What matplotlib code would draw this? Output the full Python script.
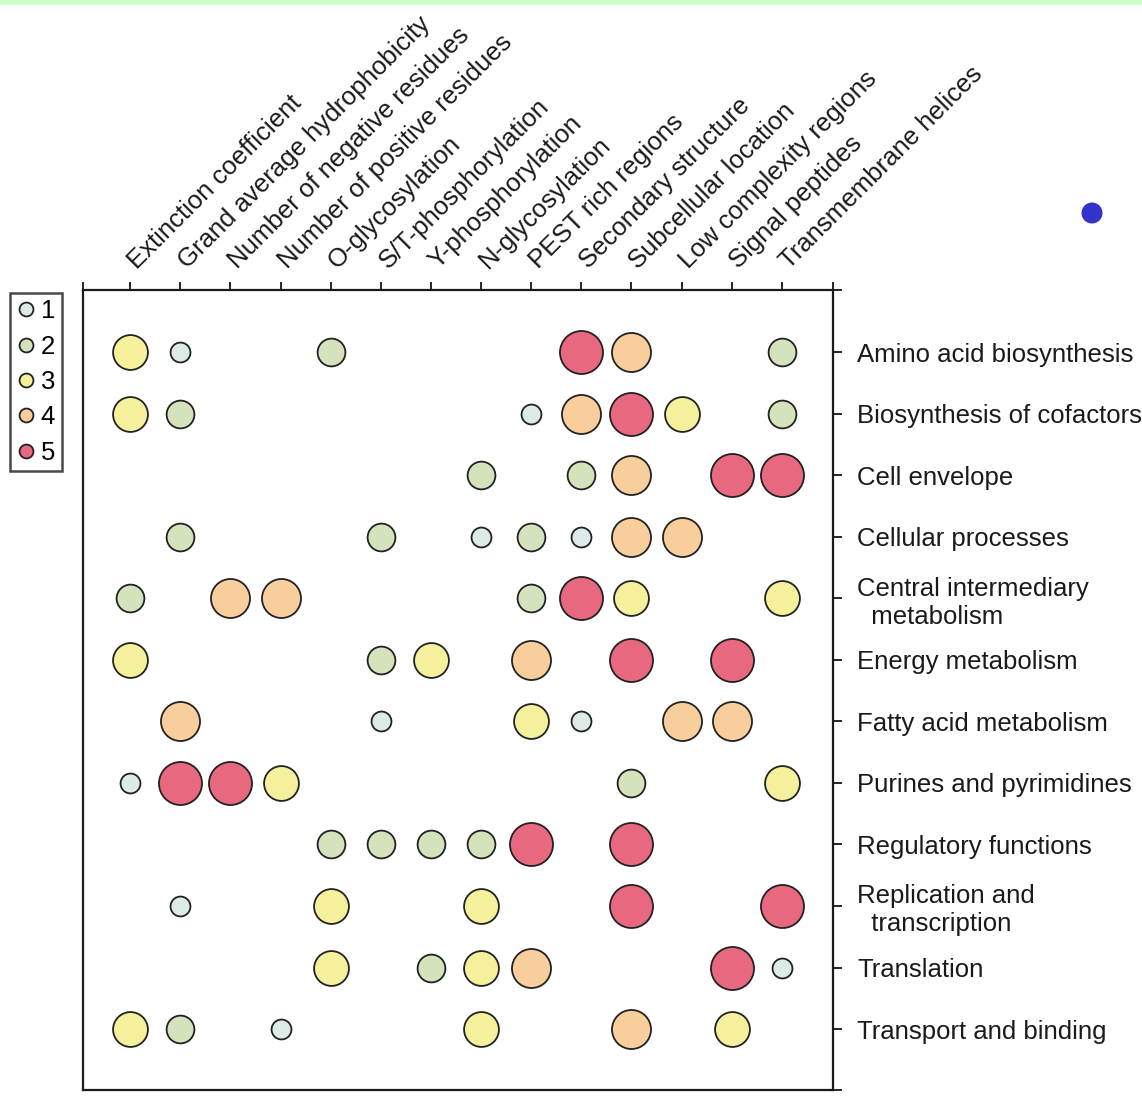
import matplotlib.pyplot as plt
from matplotlib.lines import Line2D
from matplotlib.patches import Rectangle, Ellipse
from matplotlib.transforms import ScaledTranslation

plt.rcParams['font.family'] = ['Liberation Sans', 'DejaVu Sans']

# protein features (columns)
features = ["Extinction coefficient", "Grand average hydrophobicity",
            "Number of negative residues", "Number of positive residues",
            "O-glycosylation", "S/T-phosphorylation", "Y-phosphorylation",
            "N-glycosylation", "PEST rich regions", "Secondary structure",
            "Subcellular location", "Low complexity regions",
            "Signal peptides", "Transmembrane helices"]

# functional categories (rows)
categories = ["Amino acid biosynthesis", "Biosynthesis of cofactors",
              "Cell envelope", "Cellular processes",
              "Central intermediary\n  metabolism", "Energy metabolism",
              "Fatty acid metabolism", "Purines and pyrimidines",
              "Regulatory functions", "Replication and\n  transcription",
              "Translation", "Transport and binding"]

# importance level 1-5 for each category / feature (0 = not shown)
levels = [
    [3, 1, 0, 0, 2, 0, 0, 0, 0, 5, 4, 0, 0, 2],
    [3, 2, 0, 0, 0, 0, 0, 0, 1, 4, 5, 3, 0, 2],
    [0, 0, 0, 0, 0, 0, 0, 2, 0, 2, 4, 0, 5, 5],
    [0, 2, 0, 0, 0, 2, 0, 1, 2, 1, 4, 4, 0, 0],
    [2, 0, 4, 4, 0, 0, 0, 0, 2, 5, 3, 0, 0, 3],
    [3, 0, 0, 0, 0, 2, 3, 0, 4, 0, 5, 0, 5, 0],
    [0, 4, 0, 0, 0, 1, 0, 0, 3, 1, 0, 4, 4, 0],
    [1, 5, 5, 3, 0, 0, 0, 0, 0, 0, 2, 0, 0, 3],
    [0, 0, 0, 0, 2, 2, 2, 2, 5, 0, 5, 0, 0, 0],
    [0, 1, 0, 0, 3, 0, 0, 3, 0, 0, 5, 0, 0, 5],
    [0, 0, 0, 0, 3, 0, 2, 3, 4, 0, 0, 0, 5, 1],
    [3, 2, 0, 1, 0, 0, 0, 3, 0, 0, 4, 0, 3, 0],
]

level_names = ["1", "2", "3", "4", "5"]
level_colors = ['#dcebe8', '#d5e3bd', '#f5f09c', '#f8cf9c', '#e8687f']
level_sizes = [205, 400, 630, 790, 960]

fs = 18.5

fig = plt.figure(figsize=(11.42, 11.06), dpi=100)
ax = fig.add_axes([83 / 1142, 1 - 1090 / 1106, 750 / 1142, 800 / 1106])

for r, row in enumerate(levels):
    for c, lv in enumerate(row):
        if lv == 0:
            continue
        ax.scatter(c, r, s=level_sizes[lv - 1], c=level_colors[lv - 1],
                   edgecolors='#222222', linewidths=1.3, zorder=3)

x0, x1 = -0.94, 14.02
y0, y1 = 11.99, -1.01
ax.set_xlim(x0, x1)
ax.set_ylim(y0, y1)

for s in ax.spines.values():
    s.set_linewidth(1.6)
    s.set_color('#1a1a1a')

ax.xaxis.tick_top()
ax.set_xticks(range(len(features)))
ax.set_xticklabels(features, rotation=45, ha='left', va='baseline',
                   rotation_mode='anchor', fontsize=fs, color='#1a1a1a')
ax.set_xticks([x0, x1], minor=True)
ax.tick_params(axis='x', which='both', direction='out', length=5.5,
               width=1.2, pad=9, top=True, bottom=False)
# nudge the slanted labels so they start right above their ticks
shift = ScaledTranslation(7 / 100, 0, fig.dpi_scale_trans)
for lab in ax.get_xticklabels():
    lab.set_transform(lab.get_transform() + shift)

ax.yaxis.tick_right()
ax.set_yticks(range(len(categories)))
ax.set_yticklabels(categories, fontsize=fs, color='#1a1a1a')
ax.set_yticks([y0, y1], minor=True)
ax.tick_params(axis='y', which='both', direction='out', length=6.5,
               width=1.2, pad=11, right=True, left=False)

handles = [Line2D([], [], marker='o', ls='', markersize=10,
                  markerfacecolor=col, markeredgecolor='#222222',
                  markeredgewidth=1.3) for col in level_colors]
leg = ax.legend(handles, level_names, loc='upper left',
                bbox_to_anchor=(10 / 1142, 1 - 293 / 1106),
                bbox_transform=fig.transFigure, borderaxespad=0,
                fontsize=fs, frameon=True, fancybox=False,
                handlelength=0.75, handletextpad=0.2, labelspacing=0.44,
                borderpad=0.25)
leg.get_frame().set_edgecolor('#1a1a1a')
leg.get_frame().set_linewidth(1.8)

# light strip at the top and blue bullet
fig.add_artist(Rectangle((0, 1 - 5 / 1106), 1, 5 / 1106,
                         transform=fig.transFigure, color='#ccffcc', lw=0))
fig.add_artist(Ellipse((1092 / 1142, 1 - 213 / 1106), 21 / 1142, 21 / 1106,
                       transform=fig.transFigure, color='#3333cc', lw=0))

fig.savefig('out.png', dpi=100)
